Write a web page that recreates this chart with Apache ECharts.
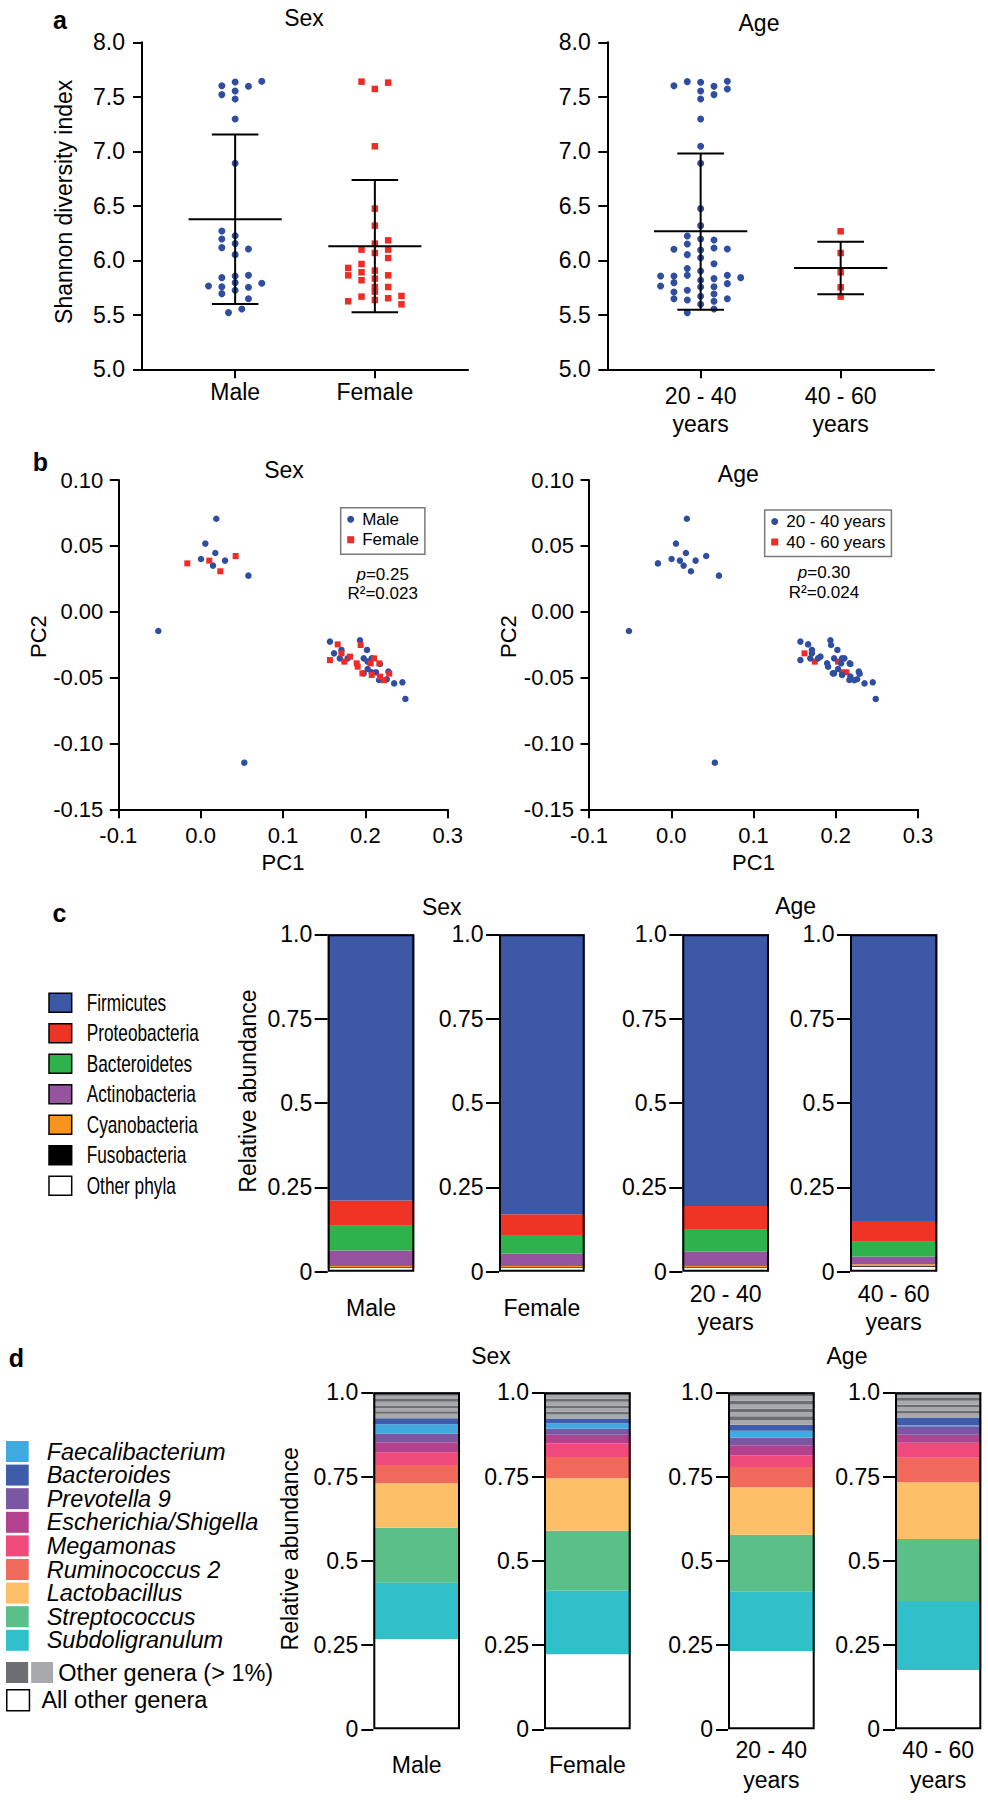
<!DOCTYPE html>
<html><head><meta charset="utf-8">
<script src="https://cdn.jsdelivr.net/npm/echarts@6/dist/echarts.min.js"></script>
<style>html,body{margin:0;padding:0;background:#fff}#chart{width:988px;height:1800px}</style>
</head><body><div id="chart"></div>
<script>
// ================= DATA =================
// Panel a: Shannon diversity index (dot plots), jitter = horizontal slot
const sexCategories = ['Male', 'Female'];
const ageCategories = ['20 - 40\nyears', '40 - 60\nyears'];

const shannonMale = [7.602,7.636,7.596,7.642,7.520,7.553,7.480,7.297,6.890,6.269,6.226,6.196,6.153,6.116,6.104,6.052,5.841,5.856,5.862,5.765,5.758,5.795,5.752,5.789,5.694,5.725,5.648,5.520,5.553];
const jitterMale   = [-2,0,2,4,-2,0,0,0,0,-2,0,-2,0,-2,2,0,-2,0,2,-4,-2,0,2,4,-2,0,2,-1,1];
const shannonFemale = [7.639,7.630,7.572,7.046,6.474,6.318,6.183,6.153,6.098,6.098,6.067,6.021,5.930,5.862,5.966,5.890,5.905,5.817,5.832,5.862,5.755,5.755,5.713,5.667,5.636,5.652,5.673,5.624,5.596];
const jitterFemale   = [-2,2,0,0,0,0,2,0,-2,2,0,2,-4,-4,-2,-2,0,-2,0,2,0,2,0,-2,0,2,4,-4,4];
const shannonYoung = [7.602,7.639,7.633,7.596,7.642,7.553,7.572,7.520,7.480,7.297,7.046,6.890,6.474,6.318,6.223,6.196,6.187,6.150,6.101,6.095,6.113,6.104,6.052,6.024,5.969,5.924,5.902,5.856,5.856,5.862,5.862,5.841,5.817,5.832,5.765,5.795,5.786,5.755,5.758,5.709,5.725,5.691,5.648,5.636,5.670,5.648,5.624,5.596,5.553,5.520];
const jitterYoung   = [-4,-2,0,2,4,0,4,2,0,0,0,0,0,0,-2,0,2,-2,-4,0,2,4,-2,0,2,-2,0,-6,-4,-2,4,6,0,2,-6,-4,4,0,2,-4,-2,2,-4,-2,0,4,2,0,2,-2];
const shannonOld = [6.266,6.067,5.890,5.752,5.667];
const jitterOld   = [0,0,0,0,0];

const sexMean = [6.376, 6.128];
const sexSdLow = [5.599, 5.523];
const sexSdHigh = [7.153, 6.737];
const ageMean = [6.266, 5.930];
const ageSdLow = [5.547, 5.688];
const ageSdHigh = [6.979, 6.171];

// Panel b: PCoA samples
const pc1 = [0.019,0.0057,0.0178,0.0004,0.0150,0.0296,0.0580,-0.0162,0.0105,0.0239,0.0425,-0.0514,0.0530,
  0.157,0.1935,0.202,0.162,0.171,0.169,0.1785,0.198,0.2028,0.2077,0.2178,0.198,0.2028,0.2077,0.213,0.2166,0.228,0.235,0.245,0.2486,0.226,
  0.157,0.1664,0.171,0.1745,0.1814,0.1895,0.1907,0.1943,0.1964,0.2065,0.2105,0.217,0.2077,0.2178,0.2225,0.229];
const pc2 = [0.0706,0.0517,0.0446,0.0400,0.0350,0.0388,0.0274,0.0367,0.0388,0.0307,0.0423,-0.0146,-0.1146,
  -0.0227,-0.0217,-0.029,-0.0316,-0.029,-0.0354,-0.0354,-0.0354,-0.0379,-0.0354,-0.0397,-0.0468,-0.0435,-0.046,-0.046,-0.0518,-0.0455,-0.0544,-0.0536,-0.0662,-0.0513,
  -0.0367,-0.0248,-0.0316,-0.0379,-0.0341,-0.0392,-0.0417,-0.0253,-0.0468,-0.0392,-0.0354,-0.0392,-0.048,-0.0493,-0.052,-0.047];
const sampleSex = ['M','M','M','M','M','M','M','F','F','F','F','M','M',
  'M','M','M','M','M','M','M','M','M','M','M','M','M','M','M','M','M','M','M','M','M',
  'F','F','F','F','F','F','F','F','F','F','F','F','F','F','F','F'];
const sampleAge = ['Y','Y','Y','Y','Y','Y','Y','Y','Y','Y','Y','Y','Y',
  'Y','Y','Y','O','Y','Y','Y','Y','O','Y','Y','Y','Y','O','O','Y','Y','Y','Y','Y','Y',
  'Y','Y','Y','O','Y','Y','Y','Y','Y','Y','Y','Y','Y','Y','Y','Y'];

// Panel c: phyla (stack order bottom -> top)
const phylaNames = ['Other phyla','Fusobacteria','Cyanobacteria','Actinobacteria','Bacteroidetes','Proteobacteria','Firmicutes'];
const phylaMale   = [0.011,0.002,0.004,0.046,0.073,0.075,0.789];
const phylaFemale = [0.011,0.002,0.004,0.037,0.055,0.061,0.830];
const phylaYoung  = [0.011,0.002,0.004,0.043,0.064,0.071,0.805];
const phylaOld    = [0.015,0.003,0.004,0.023,0.044,0.061,0.850];
const phylaLegendOrder = ['Firmicutes','Proteobacteria','Bacteroidetes','Actinobacteria','Cyanobacteria','Fusobacteria','Other phyla'];

// Panel d: genera (stack order bottom -> top), then "other genera (>1%)" bands
const generaNames = ['All other genera','Subdoligranulum','Streptococcus','Lactobacillus','Ruminococcus 2','Megamonas','Escherichia/Shigella','Prevotella 9','Faecalibacterium','Bacteroides'];
const generaMale   = [0.268,0.167,0.163,0.132,0.054,0.038,0.030,0.026,0.027,0.018];
const generaFemale = [0.223,0.189,0.177,0.156,0.063,0.040,0.026,0.018,0.016,0.014];
const generaYoung  = [0.232,0.176,0.169,0.141,0.060,0.035,0.030,0.022,0.021,0.018];
const generaOld    = [0.176,0.205,0.184,0.168,0.073,0.044,0.024,0.025,0.003,0.023];
const otherGeneraMale   = [0.013,0.008,0.009,0.008,0.011,0.008,0.010,0.010];
const otherGeneraFemale = [0.012,0.009,0.010,0.008,0.011,0.009,0.010,0.009];
const otherGeneraYoung  = [0.014,0.011,0.012,0.010,0.013,0.012,0.012,0.012];
const otherGeneraOld    = [0.012,0.009,0.010,0.008,0.011,0.008,0.009,0.008];
const otherGeneraName = 'Other genera (> 1%)';
const generaLegendOrder = ['Faecalibacterium','Bacteroides','Prevotella 9','Escherichia/Shigella','Megamonas','Ruminococcus 2','Lactobacillus','Streptococcus','Subdoligranulum'];

// ================= STYLE =================
const FONT = "'Liberation Sans', Arial, Helvetica, sans-serif";
const BLUE = '#2f4e9f', RED = '#ee2b24';
const phylaColors = ['#ffffff','#000000','#f7941d','#9553a0','#2eb24b','#ee3424','#3c58a7'];
const generaColors = ['#ffffff','#31c0ca','#5bbf8a','#fdc068','#f1695d','#ef4a7b','#b3418e','#7a56a3','#40a9e0','#3e5ca9'];
const GRAY_DARK = '#6d6e71', GRAY_LIGHT = '#a7a9ac';
const JIT = 0.143;
const blackLine = {color:'#000', width:2};

const grid = [], xAxis = [], yAxis = [], series = [], legend = [], graphic = [];
function addGrid(l, t, w, h) {
  grid.push({left:l, top:t, width:w, height:h, containLabel:false, outerBoundsMode:'none', show:false});
  return grid.length - 1;
}

function errorBars(params, api) {
  const x = api.value(0), m = api.value(1), lo = api.value(2), hi = api.value(3);
  const ln = (a, b) => ({type:'line', shape:{x1:a[0], y1:a[1], x2:b[0], y2:b[1]}, style:{stroke:'#000', lineWidth:2}});
  return {type:'group', children:[
    ln(api.coord([x, lo]), api.coord([x, hi])),
    ln(api.coord([x - 1, m]), api.coord([x + 1, m])),
    ln(api.coord([x - 0.5, hi]), api.coord([x + 0.5, hi])),
    ln(api.coord([x - 0.5, lo]), api.coord([x + 0.5, lo]))
  ]};
}

// ---------- panel a ----------
function shannonPanel(o) {
  const g = addGrid(o.left, 42.3, o.width, 327);
  const show = (i) => i === 2 || i === 5;
  const catData = ['s0','s1',o.cats[0],'s3','s4',o.cats[1],'s6','s7'];
  xAxis.push({type:'category', gridIndex:g, data:catData, boundaryGap:false,
    axisLine:{show:true, onZero:false, lineStyle:blackLine},
    axisTick:{show:true, interval:show, length:9, lineStyle:blackLine},
    axisLabel:{show:true, interval:show, color:'#000', fontSize:23, fontFamily:FONT, margin:o.labelMargin, verticalAlign:'middle', lineHeight:28},
    splitLine:{show:false}});
  xAxis.push({type:'value', gridIndex:g, min:0, max:7, show:false, position:'top'});
  const xVal = xAxis.length - 1;
  yAxis.push({type:'value', gridIndex:g, min:5, max:8, interval:0.5,
    axisLine:{show:true, onZero:false, lineStyle:blackLine},
    axisTick:{show:true, length:9, lineStyle:blackLine},
    axisLabel:{color:'#000', fontSize:23, fontFamily:FONT, margin:o.yLabelMargin, formatter:(v) => v.toFixed(1)},
    splitLine:{show:false},
    name:o.yName || '', nameLocation:'middle', nameGap:66.5,
    nameTextStyle:{color:'#000', fontSize:23, fontFamily:FONT, padding:[0,0,0,8]}});
  const yi = yAxis.length - 1;
  o.groups.forEach((grp, k) => {
    const c = k === 0 ? 2 : 5;
    series.push({type:'scatter', name:grp.name, xAxisIndex:xVal, yAxisIndex:yi, symbol:grp.symbol, symbolSize:grp.size,
      itemStyle:{color:grp.color, opacity:1, borderWidth:0}, silent:true, z:2,
      data:grp.values.map((v, i) => [c + grp.jitter[i] * JIT, v])});
  });
  series.push({type:'custom', name:o.summaryName, xAxisIndex:xVal, yAxisIndex:yi, renderItem:errorBars, silent:true, z:3,
    encode:{x:0, y:[1,2,3]},
    data:o.mean.map((m, k) => [k === 0 ? 2 : 5, m, o.low[k], o.high[k]])});
}
shannonPanel({left:142, width:326, cats:sexCategories, labelMargin:23, yLabelMargin:17, yName:'Shannon diversity index',
  summaryName:'sexSummary', mean:sexMean, low:sexSdLow, high:sexSdHigh,
  groups:[{name:'a-Male', values:shannonMale, jitter:jitterMale, symbol:'circle', size:7, color:BLUE},
          {name:'a-Female', values:shannonFemale, jitter:jitterFemale, symbol:'rect', size:6.5, color:RED}]});
shannonPanel({left:607.3, width:326.7, cats:ageCategories, labelMargin:40.3, yLabelMargin:16.6,
  summaryName:'ageSummary', mean:ageMean, low:ageSdLow, high:ageSdHigh,
  groups:[{name:'a-Young', values:shannonYoung, jitter:jitterYoung, symbol:'circle', size:7, color:BLUE},
          {name:'a-Old', values:shannonOld, jitter:jitterOld, symbol:'rect', size:6.5, color:RED}]});

// ---------- panel b ----------
function pcoaPanel(o) {
  const g = addGrid(o.left, 480, o.width, 329.3);
  xAxis.push({type:'value', gridIndex:g, min:-0.1, max:0.3, interval:0.1,
    axisLine:{show:true, onZero:false, lineStyle:blackLine},
    axisTick:{show:true, length:9, lineStyle:blackLine},
    axisLabel:{color:'#000', fontSize:22, fontFamily:FONT, margin:25.7, verticalAlign:'middle', formatter:(v) => v.toFixed(1)},
    splitLine:{show:false},
    name:'PC1', nameLocation:'middle', nameGap:42.4, nameTextStyle:{color:'#000', fontSize:22, fontFamily:FONT}});
  const xi = xAxis.length - 1;
  yAxis.push({type:'value', gridIndex:g, min:-0.15, max:0.10, interval:0.05,
    axisLine:{show:true, onZero:false, lineStyle:blackLine},
    axisTick:{show:true, length:8.5, lineStyle:blackLine},
    axisLabel:{color:'#000', fontSize:22, fontFamily:FONT, margin:15, formatter:(v) => v.toFixed(2)},
    splitLine:{show:false},
    name:'PC2', nameLocation:'middle', nameGap:68.6, nameTextStyle:{color:'#000', fontSize:22, fontFamily:FONT, padding:[0,0,0,16]}});
  const yi = yAxis.length - 1;
  o.groups.forEach(grp => {
    const pts = [];
    pc1.forEach((x, i) => { if (grp.member(i)) pts.push([x, pc2[i]]); });
    series.push({type:'scatter', name:grp.name, xAxisIndex:xi, yAxisIndex:yi, symbol:grp.symbol, symbolSize:grp.size,
      itemStyle:{color:grp.color, opacity:1, borderWidth:0}, silent:true, data:pts});
  });
  legend.push({orient:'vertical', left:o.legendLeft, top:o.legendTop, padding:[3,6,6,6.5], itemWidth:7, itemHeight:7, itemGap:3.5,
    borderColor:'#7a7a7a', borderWidth:1.5, backgroundColor:'#fff', selectedMode:false,
    itemStyle:{borderWidth:0},
    textStyle:{color:'#000', fontSize:17, fontFamily:FONT, padding:[0,0,0,3]},
    data:o.legendData});
}
pcoaPanel({left:118.3, width:329.4, legendLeft:340.7, legendTop:507.7,
  groups:[{name:'Male', member:(i) => sampleSex[i] === 'M', symbol:'circle', size:6.5, color:BLUE},
          {name:'Female', member:(i) => sampleSex[i] === 'F', symbol:'rect', size:6, color:RED}],
  legendData:[{name:'Male', icon:'circle'}, {name:'Female', icon:'rect'}]});
pcoaPanel({left:589, width:329, legendLeft:764.7, legendTop:510,
  groups:[{name:'40 - 60 years', member:(i) => sampleAge[i] === 'O', symbol:'rect', size:6, color:RED},
          {name:'20 - 40 years', member:(i) => sampleAge[i] === 'Y', symbol:'circle', size:6.5, color:BLUE}],
  legendData:[{name:'20 - 40 years', icon:'circle'}, {name:'40 - 60 years', icon:'rect'}]});

// ---------- panels c & d ----------
const fmtAbund = (v) => v === 1 ? '1.0' : (v === 0 ? '0' : String(v));
function stackedPanel(o) {
  o.groups.forEach((grp, k) => {
    const g = addGrid(o.lefts[k], o.top, o.widths[k], o.height);
    xAxis.push({type:'category', gridIndex:g, data:[grp.label],
      axisLine:{show:false}, axisTick:{show:false},
      axisLabel:{interval:0, color:'#000', fontSize:23, fontFamily:FONT, margin:o.xLabelMargin, verticalAlign:'middle', lineHeight:o.lineH},
      splitLine:{show:false}});
    const xi = xAxis.length - 1;
    yAxis.push({type:'value', gridIndex:g, min:0, max:1, interval:0.25,
      axisLine:{show:false, onZero:false},
      axisTick:{show:true, length:o.tickLen, lineStyle:blackLine},
      axisLabel:{color:'#000', fontSize:23, fontFamily:FONT, margin:o.yLabelMargin, formatter:fmtAbund},
      splitLine:{show:false},
      name:k === 0 ? 'Relative abundance' : '', nameLocation:'middle', nameGap:o.nameGap,
      nameTextStyle:{color:'#000', fontSize:23, fontFamily:FONT, padding:[0,0,0,24]}});
    const yi = yAxis.length - 1;
    let total = 0;
    grp.segments.forEach(seg => {
      total += seg.value;
      series.push({type:'bar', name:seg.name, xAxisIndex:xi, yAxisIndex:yi, stack:'stack' + g, barWidth:'100%', barGap:'-100%',
        data:[seg.value], itemStyle:{color:seg.color, borderWidth:0}, silent:true});
    });
    series.push({type:'bar', name:'frame' + g, xAxisIndex:xi, yAxisIndex:yi, barWidth:'100%', barGap:'-100%', z:5,
      data:[total], itemStyle:{color:'rgba(0,0,0,0)', borderColor:'#000', borderWidth:2}, silent:true});
  });
}
function phylaSegments(vals) { return vals.map((v, i) => ({name:phylaNames[i], value:v, color:phylaColors[i]})); }
function generaSegments(vals, others) {
  const s = vals.map((v, i) => ({name:generaNames[i], value:v, color:generaColors[i]}));
  others.forEach((v, j) => s.push({name:otherGeneraName, value:v, color:j % 2 === 0 ? GRAY_LIGHT : GRAY_DARK}));
  return s;
}
stackedPanel({top:934.3, height:337.4, lefts:[327.7,499,682.3,850], widths:[86.6,85.7,86.7,87.3],
  xLabelMargin:36.5, lineH:28, tickLen:13, yLabelMargin:15.5, nameGap:68,
  groups:[{label:sexCategories[0], segments:phylaSegments(phylaMale)},
          {label:sexCategories[1], segments:phylaSegments(phylaFemale)},
          {label:ageCategories[0], segments:phylaSegments(phylaYoung)},
          {label:ageCategories[1], segments:phylaSegments(phylaOld)}]});
stackedPanel({top:1392.3, height:337, lefts:[373.3,544,728,895], widths:[86.7,86.7,86.7,86.3],
  xLabelMargin:36, lineH:30, tickLen:12, yLabelMargin:15, nameGap:71.8,
  groups:[{label:sexCategories[0], segments:generaSegments(generaMale, otherGeneraMale)},
          {label:sexCategories[1], segments:generaSegments(generaFemale, otherGeneraFemale)},
          {label:ageCategories[0], segments:generaSegments(generaYoung, otherGeneraYoung)},
          {label:ageCategories[1], segments:generaSegments(generaOld, otherGeneraOld)}]});

// legend c: condensed key (horizontally compressed text as in the original)
phylaLegendOrder.forEach((name, i) => {
  const cy = 1002.7 + i * 30.5;
  graphic.push({type:'rect', silent:true, z:10, shape:{x:49, y:cy - 9.5, width:22.7, height:19},
    style:{fill:phylaColors[phylaNames.indexOf(name)], stroke:'#000', lineWidth:1.5}});
  graphic.push({type:'text', x:86.7, y:cy, scaleX:0.75, silent:true, z:10,
    style:{text:name, fill:'#000', fontSize:23, fontFamily:FONT, align:'left', verticalAlign:'middle', textAlign:'left', textVerticalAlign:'middle'}});
});
// legends d
legend.push({orient:'vertical', left:6, top:1440, padding:0, itemWidth:22.7, itemHeight:21, itemGap:0.6, icon:'rect', selectedMode:false,
  itemStyle:{borderWidth:0},
  textStyle:{color:'#000', fontSize:23.5, fontStyle:'italic', fontFamily:FONT, padding:[0,0,0,13]},
  data:generaLegendOrder});
const otherIcon = 'image://data:image/svg+xml;utf8,' + encodeURIComponent(
  '<svg xmlns="http://www.w3.org/2000/svg" width="47" height="21"><rect x="0" y="0" width="22" height="21" fill="' + GRAY_DARK +
  '"/><rect x="25" y="0" width="22" height="21" fill="' + GRAY_LIGHT + '"/></svg>');
legend.push({orient:'vertical', left:6, top:1660.5, padding:0, itemWidth:47.3, itemHeight:21, selectedMode:false,
  textStyle:{color:'#000', fontSize:23.5, fontFamily:FONT},
  data:[{name:otherGeneraName, icon:otherIcon}]});
legend.push({orient:'vertical', left:6, top:1688.3, padding:0, itemWidth:22.7, itemHeight:21, icon:'rect', selectedMode:false,
  itemStyle:{borderColor:'#000', borderWidth:1.5},
  textStyle:{color:'#000', fontSize:23.5, fontFamily:FONT, padding:[0,0,0,7]},
  data:['All other genera']});

// ---------- texts ----------
function T(text, x, y, size, extra) {
  graphic.push({type:'text', x:x, y:y, silent:true, z:10,
    style:Object.assign({text:text, fill:'#000', fontSize:size, fontFamily:FONT, align:'center', verticalAlign:'middle',
      textAlign:'center', textVerticalAlign:'middle'}, extra || {})});
}
const bold = {fontWeight:'bold'};
T('a', 60, 19.5, 25, bold); T('Sex', 304, 18.3, 23); T('Age', 759, 23, 23);
T('b', 40.5, 462, 25, bold); T('Sex', 284, 470, 23); T('Age', 738.3, 473.5, 23);
T('c', 59.5, 912.8, 25, bold); T('Sex', 441.7, 906.7, 23); T('Age', 795.7, 906, 23);
T('d', 16.5, 1358, 25, bold); T('Sex', 491, 1356, 23); T('Age', 847, 1356, 23);
const italicRich = {i:{fontStyle:'italic', fontSize:17, fontFamily:FONT, fill:'#000'}};
T('{i|p}=0.25', 382.7, 574, 17, {rich:italicRich}); T('R²=0.023', 382.7, 593, 17);
T('{i|p}=0.30', 824, 572.3, 17, {rich:italicRich}); T('R²=0.024', 824, 592, 17);

const chart = echarts.init(document.getElementById('chart'), null, {renderer:'svg', width:988, height:1800});
chart.setOption({
  animation:false, backgroundColor:'#fff',
  textStyle:{fontFamily:FONT, color:'#000'},
  grid:grid, xAxis:xAxis, yAxis:yAxis, series:series, legend:legend, graphic:{elements:graphic}
});
</script></body></html>
